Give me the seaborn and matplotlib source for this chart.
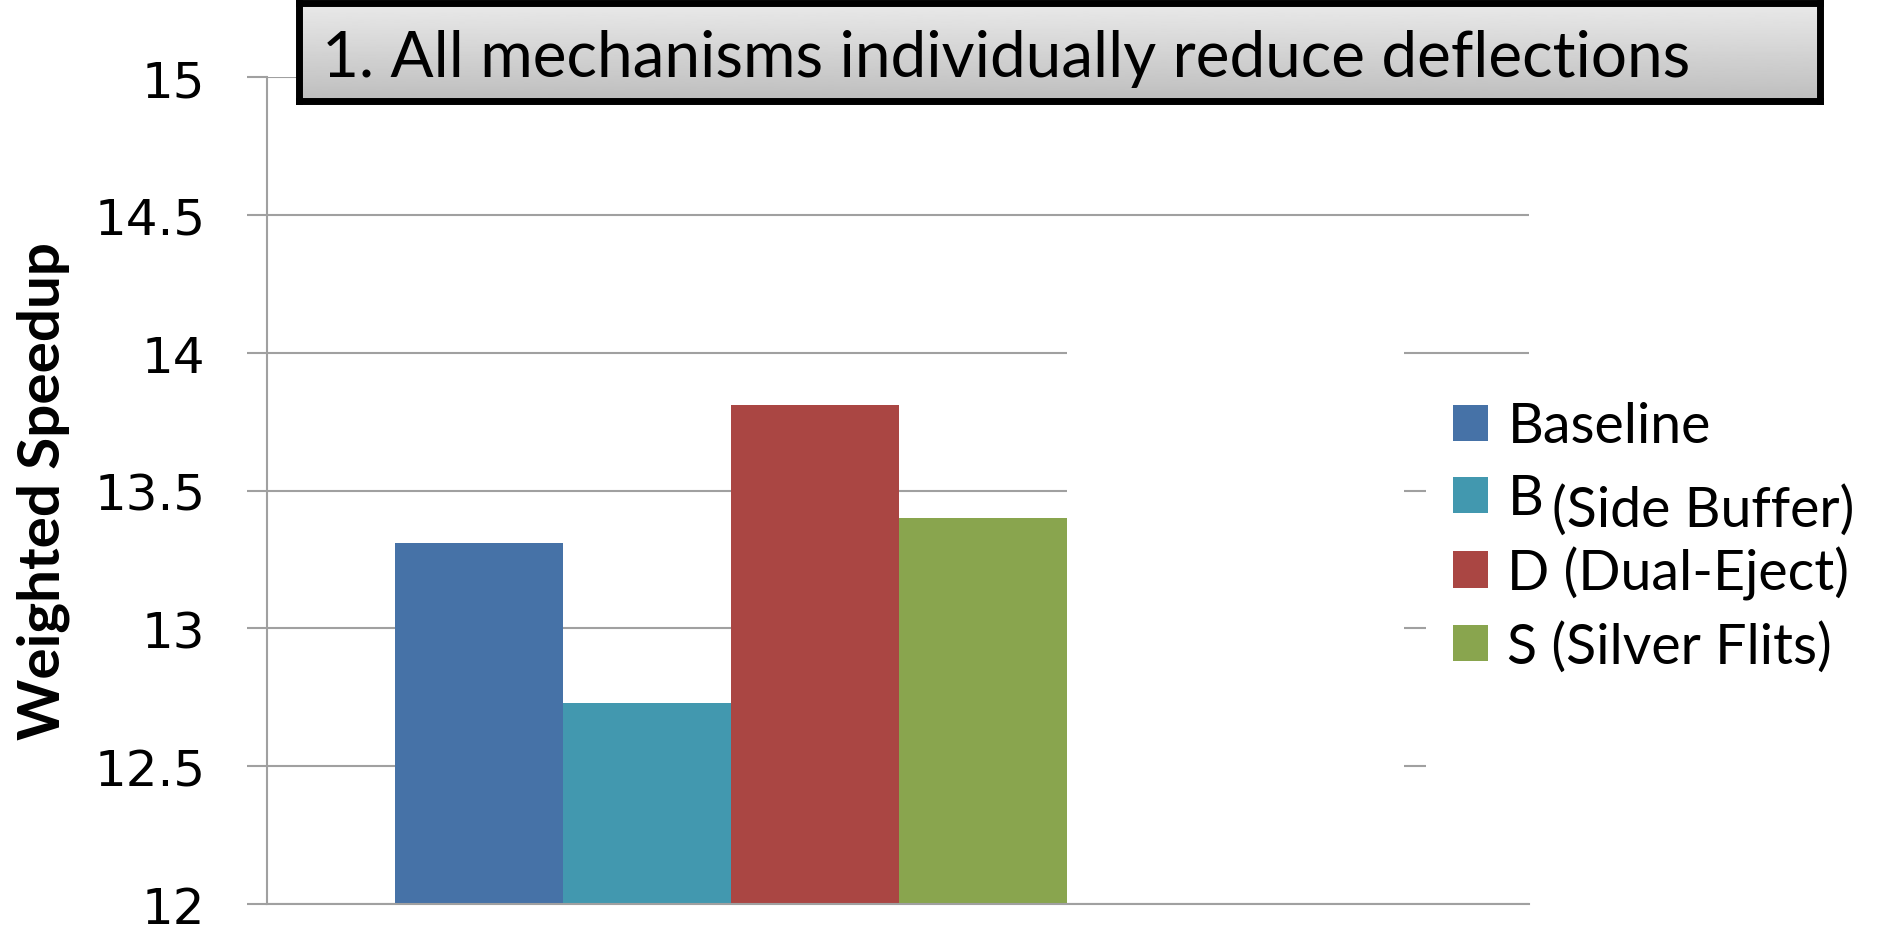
import numpy as np
import pandas as pd
import matplotlib.pyplot as plt
import seaborn as sns
from matplotlib.patches import Rectangle

# ----------------------------------------
# Data
# ----------------------------------------
mechanisms = ["Baseline", "B", "D (Dual-Eject)", "S (Silver Flits)"]
speedup = [13.31, 12.73, 13.81, 13.40]
colors = ["#4672A7", "#4298AF", "#AA4643", "#89A54E"]
y_ticks = [12, 12.5, 13, 13.5, 14, 14.5, 15]
y_tick_labels = ["12", "12.5", "13", "13.5", "14", "14.5", "15"]
title_text = "1. All mechanisms individually reduce deflections"
side_buffer_text = "(Side Buffer)"

df = pd.DataFrame({"group": ["all"] * len(mechanisms),
                   "mechanism": mechanisms,
                   "speedup": speedup})

# ----------------------------------------
# Figure
# ----------------------------------------
sns.set_style("white")
plt.rcParams["font.family"] = ["DejaVu Sans"]
plt.rcParams["text.color"] = "black"
plt.rcParams["ytick.labelcolor"] = "black"
plt.rcParams["axes.labelcolor"] = "black"

W, H = 1887, 937
fig = plt.figure(figsize=(W / 100, H / 100), dpi=100)
ax = fig.add_axes([267 / W, 1 - 905 / H, (1529 - 267) / W, 827 / H])

sns.barplot(data=df, x="group", y="speedup", hue="mechanism",
            palette=colors, saturation=1, width=0.8, linewidth=0,
            legend=True, ax=ax)

grid_gray = "#a0a0a0"
ax.set_ylim(12, 15)
ax.set_xlim(-0.552, 0.95)
ax.set_yticks(y_ticks)
ax.set_yticklabels(y_tick_labels, fontsize=36, color="black")
ax.set_xticks([])
ax.set_xlabel("")
ax.set_axisbelow(True)
ax.yaxis.grid(True, color=grid_gray, linewidth=1.5)
ax.tick_params(axis="y", direction="out", length=14.4, width=1.5,
               color=grid_gray, pad=30, left=True)
for side in ["top", "right"]:
    ax.spines[side].set_visible(False)
for side in ["left", "bottom"]:
    ax.spines[side].set_color(grid_gray)
    ax.spines[side].set_linewidth(1.5)

ax.set_ylabel("Weighted Speedup", fontsize=42, fontweight="bold",
              family="Lato", color="black")
ax.yaxis.set_label_coords(-0.156, 0.5)

# white areas that hide parts of the gridlines (as in the slide)
ax.add_patch(Rectangle((0.634, 0.006), 0.267, 0.724, transform=ax.transAxes,
                       facecolor="white", edgecolor="none", zorder=0.8))
ax.add_patch(Rectangle((0.918, 0.006), 0.09, 0.63, transform=ax.transAxes,
                       facecolor="white", edgecolor="none", zorder=0.8,
                       clip_on=False))

# ----------------------------------------
# Legend
# ----------------------------------------
handles, labels = ax.get_legend_handles_labels()
ax.legend(handles, labels, loc="center left",
          bbox_to_anchor=(1453 / W, 1 - 538 / H), bbox_transform=fig.transFigure,
          frameon=False, borderpad=0, borderaxespad=0,
          handlelength=0.63, handleheight=0.63, handletextpad=0.35,
          labelspacing=0.38, prop={"family": "Lato", "size": 40},
          labelcolor="black")
fig.text(1552 / W, 1 - 527 / H, side_buffer_text, family="Lato",
         fontsize=40, va="baseline", ha="left", color="black")

# ----------------------------------------
# Title box with gradient
# ----------------------------------------
tax = fig.add_axes([298.5 / W, 1 - 101.5 / H, (1819.5 - 298.5) / W, 98 / H])
gradient = np.linspace(0.915, 0.745, 100)[:, None]
tax.imshow(gradient, cmap="gray", vmin=0, vmax=1, aspect="auto",
           extent=[0, 1, 0, 1])
tax.set_xticks([])
tax.set_yticks([])
for side in tax.spines.values():
    side.set_color("black")
    side.set_linewidth(5)
fig.text(322 / W, 1 - 77 / H, title_text, family="Lato", fontsize=46,
         va="baseline", ha="left", color="black")

plt.savefig("out.png", dpi=100)
